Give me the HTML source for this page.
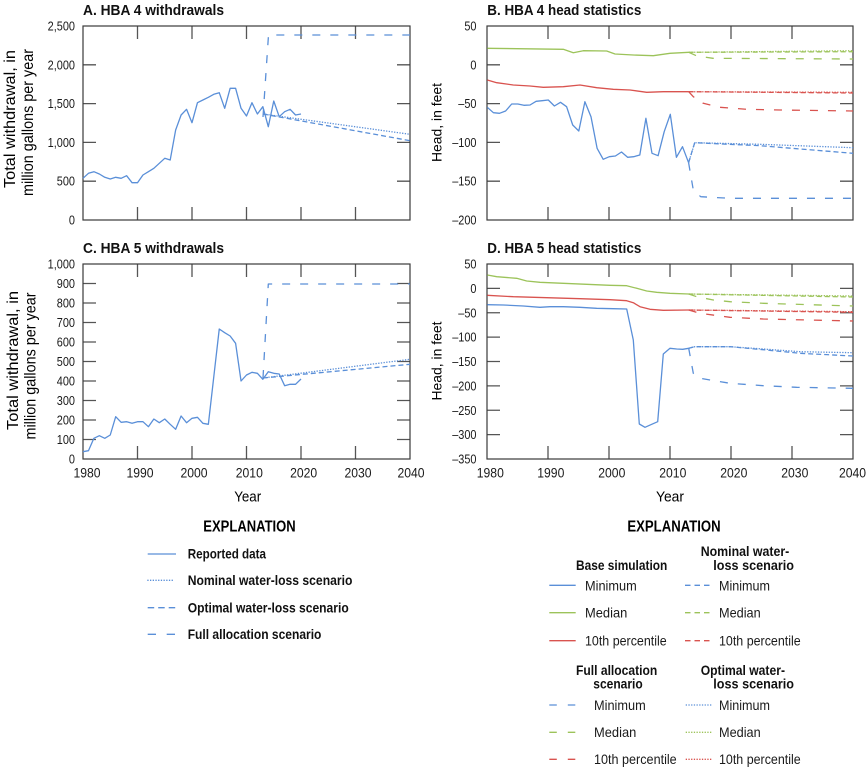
<!DOCTYPE html>
<html><head><meta charset="utf-8">
<style>
html,body{margin:0;padding:0;background:#fff;}
svg{display:block;font-family:"Liberation Sans",Arial,sans-serif;}
.fr{fill:none;stroke:#3a3a3a;stroke-width:1.2;}
.tk{stroke:#555;stroke-width:1.3;}
.yl{font-size:13px;fill:#1a1a1a;}
.xl{font-size:14px;fill:#1a1a1a;}
.ttl{font-size:14.5px;font-weight:bold;fill:#111;}
.b{stroke:#5a8fd8;stroke-width:1.3;fill:none;stroke-linejoin:round;}
.g{stroke:#9cc35a;stroke-width:1.3;fill:none;stroke-linejoin:round;}
.r{stroke:#d9534f;stroke-width:1.3;fill:none;stroke-linejoin:round;}
.full{stroke-dasharray:8 10;}
.nom{stroke-dasharray:5 3;}
.dot{stroke-dasharray:1.3 1.4;}
.lg{font-size:14px;font-weight:bold;fill:#111;}
.li{font-size:14px;fill:#1a1a1a;}
</style></head>
<body>
<svg width="866" height="768" viewBox="0 0 866 768" xmlns="http://www.w3.org/2000/svg">

<!-- Titles -->
<text class="ttl" x="83" y="15" textLength="141" lengthAdjust="spacingAndGlyphs">A. HBA 4 withdrawals</text>
<text class="ttl" x="487.3" y="15" textLength="154" lengthAdjust="spacingAndGlyphs">B. HBA 4 head statistics</text>
<text class="ttl" x="83" y="253" textLength="141" lengthAdjust="spacingAndGlyphs">C. HBA 5 withdrawals</text>
<text class="ttl" x="487.3" y="253" textLength="154" lengthAdjust="spacingAndGlyphs">D. HBA 5 head statistics</text>

<!-- Y axis titles -->
<text transform="translate(15,119) rotate(-90)" text-anchor="middle" font-size="16" textLength="138" lengthAdjust="spacingAndGlyphs">Total withdrawal, in</text>
<text transform="translate(33,122.5) rotate(-90)" text-anchor="middle" font-size="16" textLength="147" lengthAdjust="spacingAndGlyphs">million gallons per year</text>
<text transform="translate(18,360.5) rotate(-90)" text-anchor="middle" font-size="16" textLength="139" lengthAdjust="spacingAndGlyphs">Total withdrawal, in</text>
<text transform="translate(35.5,366) rotate(-90)" text-anchor="middle" font-size="16" textLength="147" lengthAdjust="spacingAndGlyphs">million gallons per year</text>
<text transform="translate(441.5,122.5) rotate(-90)" text-anchor="middle" font-size="14" textLength="79" lengthAdjust="spacingAndGlyphs">Head, in feet</text>
<text transform="translate(441.5,361) rotate(-90)" text-anchor="middle" font-size="14" textLength="79" lengthAdjust="spacingAndGlyphs">Head, in feet</text>

<!-- ===== Panel A ===== -->
<g>
<path class="tk" d="M83,181.2h13M83,142.4h13M83,103.6h13M83,64.8h13M410,181.2h-13M410,142.4h-13M410,103.6h-13M410,64.8h-13
M137.5,220v-13M192,220v-13M246.5,220v-13M301,220v-13M355.5,220v-13
M137.5,26v13M192,26v13M246.5,26v13M301,26v13M355.5,26v13"/>
<rect class="fr" x="83" y="26" width="327" height="194"/>
<text class="yl" text-anchor="end" transform="translate(75,30.5) scale(0.84,1)">2,500</text>
<text class="yl" text-anchor="end" transform="translate(75,69.3) scale(0.84,1)">2,000</text>
<text class="yl" text-anchor="end" transform="translate(75,108.1) scale(0.84,1)">1,500</text>
<text class="yl" text-anchor="end" transform="translate(75,146.9) scale(0.84,1)">1,000</text>
<text class="yl" text-anchor="end" transform="translate(75,185.7) scale(0.84,1)">500</text>
<text class="yl" text-anchor="end" transform="translate(75,224.5) scale(0.84,1)">0</text>
<polyline class="b" points="83,178.3 88.45,173.3 93.9,171.7 99.35,174 104.8,177.3 110.25,179 115.7,177.3 121.15,178.3 126.6,175.7 132.05,182.7 137.5,182.7 142.95,175 148.4,171.7 153.85,168.3 159.3,163.3 164.75,158.3 170.2,160 175.65,130 181.1,115 186.55,109.3 192,122.7 197.45,102.7 202.9,100 208.35,97.3 213.8,94.3 219.25,92.7 224.7,108.3 230.15,88.3 235.6,88.3 241.05,108.3 246.5,116 251.95,102.7 257.4,114 262.85,106.7 268.3,126.7 273.75,101 279.2,116.7 284.65,111.7 290.1,109.3 295.55,115 301,114"/>
<polyline class="b full" points="263,117 268.5,35 410,35"/>
<polyline class="b dot" points="263,114 410,134.3"/>
<polyline class="b nom" points="263,114 410,140.7"/>
</g>

<!-- ===== Panel B ===== -->
<g>
<path class="tk" d="M487,64.8h13M487,103.6h13M487,142.4h13M487,181.2h13M853,64.8h-13M853,103.6h-13M853,142.4h-13M853,181.2h-13
M548,220v-13M609,220v-13M670,220v-13M731,220v-13M792,220v-13
M548,26v13M609,26v13M670,26v13M731,26v13M792,26v13"/>
<rect class="fr" x="487" y="26" width="366" height="194"/>
<text class="yl" text-anchor="end" transform="translate(476.5,30.5) scale(0.84,1)">50</text>
<text class="yl" text-anchor="end" transform="translate(476.5,69.3) scale(0.84,1)">0</text>
<text class="yl" text-anchor="end" transform="translate(476.5,108.1) scale(0.84,1)">–50</text>
<text class="yl" text-anchor="end" transform="translate(476.5,146.9) scale(0.84,1)">–100</text>
<text class="yl" text-anchor="end" transform="translate(476.5,185.7) scale(0.84,1)">–150</text>
<text class="yl" text-anchor="end" transform="translate(476.5,224.5) scale(0.84,1)">–200</text>
<!-- green -->
<polyline class="g" points="487.3,48.3 563.3,49.3 573.3,52.7 583.3,50.7 606.7,51 615,54 633.3,55 653.3,55.7 670,53.3 688.7,52.3"/>
<polyline class="g dot" points="688.7,52.3 853,50.7"/>
<polyline class="g nom" points="688.7,52.3 853,51.7"/>
<polyline class="g full" points="688.7,52.3 697,56 713,58.3 853,59"/>
<!-- red -->
<polyline class="r" points="487.3,80 496.7,82.7 513.3,85 530,86 543.3,87.3 563.3,86.7 580,85 596.7,87.7 613.3,89.3 630,90 646.7,92.3 663.3,91.7 688.7,91.7"/>
<polyline class="r dot" points="688.7,91.7 853,92.3"/>
<polyline class="r nom" points="688.7,91.7 853,93"/>
<polyline class="r full" points="688.7,91.7 693.3,96.7 703.3,103.3 720,107.3 746.7,109.3 780,110 853,111"/>
<!-- blue -->
<polyline class="b" points="487.3,107.3 493.4,112.7 499.5,113.3 505.6,111 511.7,104 517.8,104 523.9,105.3 530,105 536.1,101.3 542.2,100.7 548.3,100 554.4,106 560.5,102.3 566.6,106.7 572.7,125 578.8,131 584.9,101.7 591,116.7 597.1,148.3 603.2,159.3 609.3,156.7 615.4,156 621.5,152 627.6,157.3 633.7,156.7 639.8,155 645.9,118.3 652,153.3 658.1,155.7 664.2,131.7 670.3,114.3 676.4,157.3 682.5,146.7 688.6,162.7"/>
<polyline class="b dot" points="688.6,162.7 694.7,142.7 760,144.3 853,147.7"/>
<polyline class="b nom" points="688.6,162.7 694.7,142.7 760,145.7 853,153.3"/>
<polyline class="b full" points="688.6,162.7 693.3,190 700.7,196.7 730,198.3 853,198.3"/>
</g>

<!-- ===== Panel C ===== -->
<g>
<path class="tk" d="M83,439.5h13M83,420h13M83,400.5h13M83,381h13M83,361.5h13M83,342h13M83,322.5h13M83,303h13M83,283.5h13
M410,439.5h-13M410,420h-13M410,400.5h-13M410,381h-13M410,361.5h-13M410,342h-13M410,322.5h-13M410,303h-13M410,283.5h-13
M137.5,459v-13M192,459v-13M246.5,459v-13M301,459v-13M355.5,459v-13
M137.5,264v13M192,264v13M246.5,264v13M301,264v13M355.5,264v13"/>
<rect class="fr" x="83" y="264" width="327" height="195"/>
<text class="yl" text-anchor="end" transform="translate(75,268.5) scale(0.84,1)">1,000</text>
<text class="yl" text-anchor="end" transform="translate(75,288) scale(0.84,1)">900</text>
<text class="yl" text-anchor="end" transform="translate(75,307.5) scale(0.84,1)">800</text>
<text class="yl" text-anchor="end" transform="translate(75,327) scale(0.84,1)">700</text>
<text class="yl" text-anchor="end" transform="translate(75,346.5) scale(0.84,1)">600</text>
<text class="yl" text-anchor="end" transform="translate(75,366) scale(0.84,1)">500</text>
<text class="yl" text-anchor="end" transform="translate(75,385.5) scale(0.84,1)">400</text>
<text class="yl" text-anchor="end" transform="translate(75,405) scale(0.84,1)">300</text>
<text class="yl" text-anchor="end" transform="translate(75,424.5) scale(0.84,1)">200</text>
<text class="yl" text-anchor="end" transform="translate(75,444) scale(0.84,1)">100</text>
<text class="yl" text-anchor="end" transform="translate(75,463.5) scale(0.84,1)">0</text>
<text class="xl" text-anchor="middle" transform="translate(87,477.3) scale(0.87,1)">1980</text>
<text class="xl" text-anchor="middle" transform="translate(140,477.3) scale(0.87,1)">1990</text>
<text class="xl" text-anchor="middle" transform="translate(194,477.3) scale(0.87,1)">2000</text>
<text class="xl" text-anchor="middle" transform="translate(249.3,477.3) scale(0.87,1)">2010</text>
<text class="xl" text-anchor="middle" transform="translate(303.6,477.3) scale(0.87,1)">2020</text>
<text class="xl" text-anchor="middle" transform="translate(358,477.3) scale(0.87,1)">2030</text>
<text class="xl" text-anchor="middle" transform="translate(411,477.3) scale(0.87,1)">2040</text>
<polyline class="b" points="83,451.7 88.45,450.7 93.9,438.3 99.35,435.7 104.8,438.3 110.25,435 115.7,416.7 121.15,422.3 126.6,421.7 132.05,423.3 137.5,421.7 142.95,421.7 148.4,426.7 153.85,419 159.3,422.7 164.75,419 170.2,424.3 175.65,429.3 181.1,416 186.55,422.7 192,418.3 197.45,417.3 202.9,423.3 208.35,424.3 213.8,376.7 219.25,329 224.7,332.7 230.15,336 235.6,343.3 241.05,381 246.5,375 251.95,372.3 257.4,373.3 262.85,379.3 268.3,371.7 273.75,373.3 279.2,374 284.65,385.7 290.1,384.3 295.55,384.3 301,379"/>
<polyline class="b full" points="263,378 268.3,284 410,284"/>
<polyline class="b dot" points="263,378 410,359.3"/>
<polyline class="b nom" points="263,378 410,364.3"/>
</g>

<!-- ===== Panel D ===== -->
<g>
<path class="tk" d="M487,288.4h13M487,312.75h13M487,337.1h13M487,361.5h13M487,385.9h13M487,410.25h13M487,434.6h13
M853,288.4h-13M853,312.75h-13M853,337.1h-13M853,361.5h-13M853,385.9h-13M853,410.25h-13M853,434.6h-13
M548,459v-13M609,459v-13M670,459v-13M731,459v-13M792,459v-13
M548,264v13M609,264v13M670,264v13M731,264v13M792,264v13"/>
<rect class="fr" x="487" y="264" width="366" height="195"/>
<text class="yl" text-anchor="end" transform="translate(476.5,268.5) scale(0.84,1)">50</text>
<text class="yl" text-anchor="end" transform="translate(476.5,292.9) scale(0.84,1)">0</text>
<text class="yl" text-anchor="end" transform="translate(476.5,317.25) scale(0.84,1)">–50</text>
<text class="yl" text-anchor="end" transform="translate(476.5,341.6) scale(0.84,1)">–100</text>
<text class="yl" text-anchor="end" transform="translate(476.5,366) scale(0.84,1)">–150</text>
<text class="yl" text-anchor="end" transform="translate(476.5,390.4) scale(0.84,1)">–200</text>
<text class="yl" text-anchor="end" transform="translate(476.5,414.75) scale(0.84,1)">–250</text>
<text class="yl" text-anchor="end" transform="translate(476.5,439.1) scale(0.84,1)">–300</text>
<text class="yl" text-anchor="end" transform="translate(476.5,463.5) scale(0.84,1)">–350</text>
<text class="xl" text-anchor="middle" transform="translate(490.3,477.3) scale(0.87,1)">1980</text>
<text class="xl" text-anchor="middle" transform="translate(550.8,477.3) scale(0.87,1)">1990</text>
<text class="xl" text-anchor="middle" transform="translate(611.8,477.3) scale(0.87,1)">2000</text>
<text class="xl" text-anchor="middle" transform="translate(672.8,477.3) scale(0.87,1)">2010</text>
<text class="xl" text-anchor="middle" transform="translate(733.8,477.3) scale(0.87,1)">2020</text>
<text class="xl" text-anchor="middle" transform="translate(794.8,477.3) scale(0.87,1)">2030</text>
<text class="xl" text-anchor="middle" transform="translate(852.5,477.3) scale(0.87,1)">2040</text>
<!-- green -->
<polyline class="g" points="487.3,275 496.7,276.7 516.7,278.3 526.7,281 540,282.3 563.3,283.3 586.7,284.3 610,285.3 626.7,285.7 636.7,288.3 646.7,291 656.7,292.3 670,293.3 688.7,294"/>
<polyline class="g dot" points="688.7,294 853,296"/>
<polyline class="g nom" points="688.7,294 853,297"/>
<polyline class="g full" points="688.7,294 696.7,296.7 713.3,300 730,301.7 763.3,303.3 853,306"/>
<!-- red -->
<polyline class="r" points="487.3,295.3 513.3,296.7 546.7,297.7 580,298.7 610,299.7 626.7,300.7 633.3,302.7 640,306.7 650,309.3 663.3,310.3 688.7,310"/>
<polyline class="r dot" points="688.7,310 853,311.7"/>
<polyline class="r nom" points="688.7,310 853,312.3"/>
<polyline class="r full" points="688.7,310 700,313.3 730,317.3 763.3,319 853,321"/>
<!-- blue -->
<polyline class="b" points="487.3,304.7 503.3,305 523.3,306 540,307.3 550,306.7 563.3,306.7 580,307.3 596.7,308.3 613.3,308.7 626.7,309 633.3,340 639.3,424 645,427.3 651.7,424.3 657.7,421.7 663.3,354 670,348.3 676.7,349 682.7,349.3 688.7,348.3"/>
<polyline class="b dot" points="688.7,348.3 694.7,346.7 730,346.7 763.3,349 800,351.7 853,352.7"/>
<polyline class="b nom" points="688.7,348.3 694.7,346.7 730,346.7 763.3,349.7 800,353.3 853,356"/>
<polyline class="b full" points="688.7,348.3 693.3,373.3 700,378.3 730,383.3 763.3,385.7 796.7,387.3 853,388.3"/>
</g>

<!-- Year labels -->
<text x="247.7" y="501.5" text-anchor="middle" font-size="15" textLength="27" lengthAdjust="spacingAndGlyphs">Year</text>
<text x="670" y="501.5" text-anchor="middle" font-size="15" textLength="28" lengthAdjust="spacingAndGlyphs">Year</text>

<!-- ===== Left legend ===== -->
<text x="249.5" y="531.5" text-anchor="middle" font-size="15.5" font-weight="bold" textLength="92.4" lengthAdjust="spacingAndGlyphs">EXPLANATION</text>
<line class="b" x1="147.7" y1="554" x2="176" y2="554"/>
<text class="lg" x="187.7" y="558.5" textLength="78.3" lengthAdjust="spacingAndGlyphs">Reported data</text>
<line class="b dot" x1="147.3" y1="580.3" x2="174" y2="580.3"/>
<text class="lg" x="187.7" y="585" textLength="164.7" lengthAdjust="spacingAndGlyphs">Nominal water-loss scenario</text>
<line class="b" stroke-dasharray="6.5 4" x1="147.7" y1="607.7" x2="175.5" y2="607.7"/>
<text class="lg" x="187.7" y="612.3" textLength="161" lengthAdjust="spacingAndGlyphs">Optimal water-loss scenario</text>
<line class="b" stroke-dasharray="8.3 10.7" x1="147.7" y1="634.3" x2="175.5" y2="634.3"/>
<text class="lg" x="187.7" y="639" textLength="133.7" lengthAdjust="spacingAndGlyphs">Full allocation scenario</text>

<!-- ===== Right legend ===== -->
<text x="674" y="531.5" text-anchor="middle" font-size="15.5" font-weight="bold" textLength="93.3" lengthAdjust="spacingAndGlyphs">EXPLANATION</text>
<text class="lg" x="700.7" y="556" textLength="88.6" lengthAdjust="spacingAndGlyphs">Nominal water-</text>
<text class="lg" x="576" y="570" textLength="91.3" lengthAdjust="spacingAndGlyphs">Base simulation</text>
<text class="lg" x="713.3" y="570" textLength="80.7" lengthAdjust="spacingAndGlyphs">loss scenario</text>

<line class="b" x1="549.3" y1="585.3" x2="575.7" y2="585.3"/>
<text class="li" x="585" y="590.3" textLength="51.7" lengthAdjust="spacingAndGlyphs">Minimum</text>
<line class="b" stroke-dasharray="5.5 4" x1="685" y1="585.3" x2="711.7" y2="585.3"/>
<text class="li" x="719" y="590.3" textLength="51" lengthAdjust="spacingAndGlyphs">Minimum</text>

<line class="g" x1="549.3" y1="612.7" x2="575.7" y2="612.7"/>
<text class="li" x="585" y="617.6" textLength="42.3" lengthAdjust="spacingAndGlyphs">Median</text>
<line class="g" stroke-dasharray="5.5 4" x1="685" y1="612.7" x2="711.7" y2="612.7"/>
<text class="li" x="719" y="617.6" textLength="41.7" lengthAdjust="spacingAndGlyphs">Median</text>

<line class="r" x1="549.3" y1="640.7" x2="575.7" y2="640.7"/>
<text class="li" x="585" y="645.3" textLength="81.7" lengthAdjust="spacingAndGlyphs">10th percentile</text>
<line class="r" stroke-dasharray="5.5 4" x1="685" y1="640.7" x2="711.7" y2="640.7"/>
<text class="li" x="719" y="645.3" textLength="81.7" lengthAdjust="spacingAndGlyphs">10th percentile</text>

<text class="lg" x="576" y="675" textLength="81.3" lengthAdjust="spacingAndGlyphs">Full allocation</text>
<text class="lg" x="593.3" y="688.4" textLength="49.4" lengthAdjust="spacingAndGlyphs">scenario</text>
<text class="lg" x="700.7" y="675" textLength="84.3" lengthAdjust="spacingAndGlyphs">Optimal water-</text>
<text class="lg" x="713.3" y="688.4" textLength="80.7" lengthAdjust="spacingAndGlyphs">loss scenario</text>

<line class="b" stroke-dasharray="7.5 11" x1="549.3" y1="705" x2="576" y2="705"/>
<text class="li" x="594" y="710" textLength="51.7" lengthAdjust="spacingAndGlyphs">Minimum</text>
<line class="b dot" x1="685.7" y1="705" x2="712.7" y2="705"/>
<text class="li" x="719" y="710" textLength="51" lengthAdjust="spacingAndGlyphs">Minimum</text>

<line class="g" stroke-dasharray="7.5 11" x1="549.3" y1="732.3" x2="576" y2="732.3"/>
<text class="li" x="594" y="737" textLength="42.3" lengthAdjust="spacingAndGlyphs">Median</text>
<line class="g dot" x1="685.7" y1="732.3" x2="712.7" y2="732.3"/>
<text class="li" x="719" y="737" textLength="41.7" lengthAdjust="spacingAndGlyphs">Median</text>

<line class="r" stroke-dasharray="7.5 11" x1="549.3" y1="759.3" x2="576" y2="759.3"/>
<text class="li" x="594" y="764" textLength="82.7" lengthAdjust="spacingAndGlyphs">10th percentile</text>
<line class="r dot" x1="685.7" y1="759.3" x2="712.7" y2="759.3"/>
<text class="li" x="719" y="764" textLength="81.7" lengthAdjust="spacingAndGlyphs">10th percentile</text>

</svg>
</body></html>
